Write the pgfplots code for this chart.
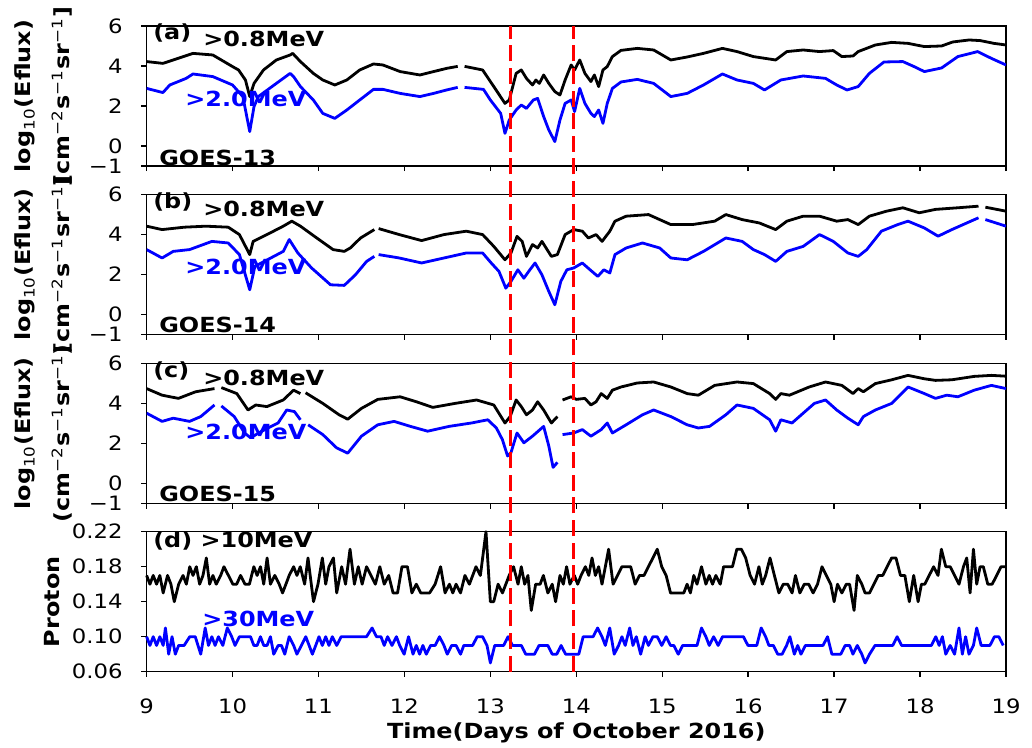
\documentclass[border=0pt]{standalone}
\usepackage{fontspec}
\setmainfont{DejaVu Sans}[FakeStretch=1.15]
\usepackage{pgfplots}
\pgfplotsset{compat=1.18}
\newcommand{\lbl}{\fontsize{10.4}{12}\selectfont\bfseries}
\newcommand{\sps}[1]{\textsuperscript{\mdseries #1}}
\tikzset{ann/.style={anchor=west, inner sep=0pt, font=\lbl}}
\pgfplotsset{
  panel/.style={
    at={(73.3pt,#1)}, anchor=south west,
    scale only axis, width=429.7pt, height=70pt,
    xmin=9, xmax=19, xtick={9,...,19},
    axis line style={line width=0.7pt},
    tick align=outside, tick pos=left,
    major tick length=2.6pt,
    every tick/.style={black, line width=0.7pt},
    ticklabel style={font=\fontsize{9.9}{11}\selectfont},
    yticklabel style={xshift=-5.9pt},
    xticklabel style={yshift=-7.5pt},
    unbounded coords=jump,
    every axis plot/.append style={line width=1.4pt, line join=round},
  },
  eflux/.style={ymin=-1, ymax=6, ytick={-1,0,2,4,6}, yticklabels={−1,0,2,4,6},
    xticklabels={}, clip mode=individual},
}
\begin{document}
\begin{tikzpicture}
\useasboundingbox (0,0) rectangle (516pt,374pt);

% ---------------- (a) GOES-13
\begin{axis}[panel=291pt, eflux]
\addplot[black] coordinates {(9.0,4.22)(9.19,4.13)(9.31,4.3)(9.54,4.63)(9.77,4.55)(10.0,3.97)(10.07,3.8)(10.15,3.3)(10.2,2.47)(10.25,3.13)(10.36,3.8)(10.51,4.3)(10.67,4.55)(10.70,4.63)(10.79,4.22)(10.94,3.63)(11.05,3.3)(11.19,3.05)(11.33,3.3)(11.48,3.8)(11.64,4.1)(11.75,4.05)(11.95,3.72)(12.18,3.55)(12.34,3.72)(12.49,3.88)(12.62,3.98)(12.66,nan)(12.70,3.98)(12.91,3.8)(13.04,2.97)(13.17,2.13)(13.22,2.3)(13.30,3.63)(13.36,3.8)(13.42,3.38)(13.49,3.05)(13.53,3.3)(13.57,3.13)(13.62,3.55)(13.68,3.13)(13.75,2.72)(13.81,2.55)(13.87,3.3)(13.94,4.05)(13.98,3.8)(14.04,4.3)(14.10,3.63)(14.17,3.22)(14.21,3.55)(14.26,2.97)(14.31,3.8)(14.36,3.97)(14.42,4.47)(14.52,4.78)(14.71,4.88)(14.90,4.8)(15.10,4.3)(15.29,4.45)(15.48,4.63)(15.70,4.88)(15.87,4.72)(16.06,4.47)(16.32,4.3)(16.45,4.72)(16.64,4.8)(16.83,4.72)(16.99,4.77)(17.09,4.47)(17.22,4.5)(17.28,4.72)(17.48,5.05)(17.67,5.18)(17.86,5.13)(18.05,4.97)(18.25,5.0)(18.38,5.2)(18.57,5.3)(18.70,5.27)(18.86,5.13)(19.0,5.05)};
\addplot[blue] coordinates {(9.0,2.88)(9.19,2.67)(9.27,3.05)(9.46,3.38)(9.54,3.6)(9.77,3.47)(10.0,3.05)(10.12,2.47)(10.2,0.72)(10.25,1.97)(10.30,2.47)(10.51,3.13)(10.67,3.63)(10.71,3.47)(10.79,2.97)(10.94,2.3)(11.05,1.63)(11.19,1.38)(11.33,1.8)(11.48,2.3)(11.64,2.83)(11.75,2.83)(11.95,2.63)(12.18,2.47)(12.34,2.63)(12.49,2.8)(12.62,2.93)(12.66,nan)(12.70,2.93)(12.92,2.83)(13.0,2.3)(13.12,1.63)(13.17,0.63)(13.22,1.3)(13.30,1.8)(13.36,2.05)(13.42,1.88)(13.50,2.3)(13.55,2.38)(13.62,1.47)(13.68,0.8)(13.75,0.22)(13.81,1.3)(13.87,2.13)(13.94,2.3)(13.98,1.72)(14.04,2.88)(14.10,2.13)(14.17,1.63)(14.21,1.47)(14.26,1.8)(14.31,1.13)(14.36,2.13)(14.42,2.88)(14.52,3.2)(14.71,3.33)(14.90,3.13)(15.10,2.47)(15.29,2.63)(15.48,3.05)(15.70,3.6)(15.87,3.3)(16.06,3.13)(16.19,2.8)(16.38,3.3)(16.64,3.5)(16.90,3.38)(17.03,3.05)(17.15,2.8)(17.28,2.97)(17.41,3.63)(17.58,4.2)(17.80,4.22)(17.93,3.97)(18.05,3.72)(18.25,3.9)(18.44,4.47)(18.67,4.72)(18.83,4.38)(19.0,4.05)};
\node[ann] at (axis cs:9.073,5.65) {(a)};
\node[ann] at (axis cs:9.655,5.33) {>0.8MeV};
\node[ann, text=blue] at (axis cs:9.446,2.35) {>2.0MeV};
\node[ann] at (axis cs:9.143,-0.58) {GOES-13};
\node[rotate=90, font=\lbl] at (axis description cs:-0.1415,0.5) {log\textsubscript{\mdseries 10}(Eflux)};
\node[rotate=90, font=\lbl] at (axis description cs:-0.0984,0.5) {[cm\sps{−2}s\sps{−1}sr\sps{−1}]};
\end{axis}

% ---------------- (b) GOES-14
\begin{axis}[panel=206.8pt, eflux]
\addplot[black] coordinates {(9.0,4.41)(9.18,4.24)(9.44,4.36)(9.69,4.41)(9.95,4.36)(10.08,3.99)(10.20,2.99)(10.24,3.65)(10.40,3.99)(10.59,4.41)(10.69,4.66)(10.79,4.41)(10.98,3.82)(11.17,3.24)(11.30,3.15)(11.37,3.32)(11.49,3.82)(11.65,4.24)(11.68,nan)(11.70,4.29)(11.94,3.99)(12.20,3.69)(12.46,3.99)(12.72,4.16)(12.91,3.99)(13.04,3.4)(13.17,2.73)(13.24,3.07)(13.31,3.9)(13.37,3.65)(13.42,2.9)(13.49,3.49)(13.55,3.32)(13.60,3.65)(13.71,2.9)(13.78,2.99)(13.87,3.99)(13.97,4.24)(14.07,4.16)(14.14,3.82)(14.23,3.99)(14.30,3.65)(14.39,4.16)(14.45,4.66)(14.58,4.91)(14.84,4.99)(15.10,4.49)(15.35,4.49)(15.61,4.66)(15.74,4.99)(15.93,4.74)(16.13,4.57)(16.32,4.24)(16.45,4.66)(16.64,4.91)(16.83,4.91)(17.03,4.66)(17.16,4.74)(17.28,4.49)(17.41,4.91)(17.61,5.16)(17.80,5.33)(17.99,5.08)(18.18,5.25)(18.44,5.33)(18.68,5.41)(18.73,nan)(18.76,5.36)(19.0,5.16)};
\addplot[blue] coordinates {(9.0,3.24)(9.18,2.82)(9.31,3.15)(9.50,3.24)(9.76,3.65)(9.95,3.57)(10.08,2.99)(10.20,1.23)(10.26,2.4)(10.37,2.65)(10.59,3.15)(10.66,3.74)(10.76,3.07)(10.92,2.32)(11.14,1.48)(11.30,1.45)(11.43,1.98)(11.56,2.65)(11.65,2.9)(11.68,nan)(11.70,2.99)(11.94,2.82)(12.20,2.57)(12.46,2.82)(12.72,3.07)(12.91,3.07)(13.01,2.57)(13.10,2.15)(13.18,1.31)(13.24,1.65)(13.32,2.23)(13.39,1.81)(13.46,2.23)(13.52,2.57)(13.60,1.98)(13.68,1.15)(13.75,0.48)(13.82,1.65)(13.89,2.23)(13.97,2.32)(14.07,2.57)(14.16,2.23)(14.25,1.9)(14.32,2.23)(14.39,2.07)(14.45,2.99)(14.58,3.32)(14.77,3.57)(14.97,3.32)(15.10,2.82)(15.29,2.73)(15.48,3.15)(15.74,3.82)(15.93,3.65)(16.06,3.24)(16.19,2.99)(16.32,2.65)(16.45,3.15)(16.64,3.4)(16.83,3.99)(16.99,3.65)(17.16,3.07)(17.28,2.9)(17.38,3.24)(17.55,4.16)(17.74,4.49)(17.86,4.66)(18.05,4.32)(18.21,3.91)(18.37,4.24)(18.68,4.83)(18.73,nan)(18.76,4.74)(19.0,4.41)};
\node[ann] at (axis cs:9.073,5.63) {(b)};
\node[ann] at (axis cs:9.655,5.28) {>0.8MeV};
\node[ann, text=blue] at (axis cs:9.446,2.39) {>2.0MeV};
\node[ann] at (axis cs:9.143,-0.55) {GOES-14};
\node[rotate=90, font=\lbl] at (axis description cs:-0.1415,0.5) {log\textsubscript{\mdseries 10}(Eflux)};
\node[rotate=90, font=\lbl] at (axis description cs:-0.0984,0.5) {[cm\sps{−2}s\sps{−1}sr\sps{−1}]};
\end{axis}

% ---------------- (c) GOES-15
\begin{axis}[panel=122.3pt, eflux]
\addplot[black] coordinates {(9.0,4.74)(9.18,4.41)(9.37,4.25)(9.57,4.58)(9.79,4.74)(9.83,nan)(9.87,4.79)(10.05,4.49)(10.18,3.67)(10.27,3.92)(10.40,3.84)(10.59,4.17)(10.71,4.66)(10.79,4.49)(10.82,nan)(10.85,4.53)(11.05,4.0)(11.24,3.43)(11.34,3.21)(11.50,3.75)(11.69,4.2)(11.95,4.33)(12.14,4.08)(12.33,3.8)(12.59,4.0)(12.84,4.17)(13.04,3.92)(13.17,3.02)(13.23,3.34)(13.30,4.17)(13.36,3.84)(13.42,3.43)(13.49,3.67)(13.55,4.08)(13.62,3.67)(13.71,3.02)(13.78,3.34)(13.81,nan)(13.84,4.17)(13.94,4.33)(14.0,4.2)(14.10,4.25)(14.17,3.92)(14.23,4.08)(14.29,4.49)(14.36,4.25)(14.42,4.66)(14.52,4.82)(14.71,5.02)(14.90,5.07)(15.10,4.82)(15.29,4.49)(15.42,4.41)(15.61,4.9)(15.87,5.07)(16.06,4.99)(16.25,4.49)(16.32,4.2)(16.38,4.49)(16.48,4.41)(16.71,4.82)(16.90,5.07)(17.09,4.9)(17.22,4.49)(17.28,4.74)(17.34,4.58)(17.48,4.99)(17.67,5.18)(17.86,5.4)(18.05,5.23)(18.18,5.15)(18.37,5.18)(18.63,5.35)(18.83,5.4)(19.0,5.36)};
\addplot[blue] coordinates {(9.0,3.51)(9.18,3.1)(9.31,3.26)(9.50,3.1)(9.63,3.34)(9.79,3.92)(9.83,nan)(9.87,3.87)(10.02,3.34)(10.14,2.52)(10.21,2.28)(10.34,2.61)(10.53,3.02)(10.63,3.67)(10.72,3.59)(10.79,3.18)(10.83,nan)(10.88,2.93)(11.05,2.44)(11.21,1.78)(11.34,1.51)(11.50,2.36)(11.69,2.93)(11.88,3.1)(12.07,2.85)(12.27,2.61)(12.52,2.85)(12.78,3.02)(12.97,3.18)(13.07,2.77)(13.14,2.19)(13.20,1.37)(13.24,1.54)(13.31,2.52)(13.39,2.03)(13.49,2.36)(13.62,2.85)(13.68,1.87)(13.73,0.8)(13.78,1.05)(13.81,nan)(13.84,2.44)(13.97,2.52)(14.07,2.69)(14.17,2.36)(14.29,2.69)(14.36,3.02)(14.42,2.52)(14.58,2.93)(14.77,3.43)(14.90,3.67)(15.10,3.34)(15.29,2.93)(15.42,2.77)(15.55,2.85)(15.74,3.43)(15.87,3.92)(16.06,3.75)(16.25,3.18)(16.32,2.61)(16.38,3.18)(16.51,3.02)(16.64,3.51)(16.77,4.0)(16.90,4.17)(17.03,3.67)(17.16,3.26)(17.28,2.93)(17.34,3.34)(17.48,3.67)(17.67,4.0)(17.86,4.82)(18.05,4.49)(18.18,4.25)(18.31,4.41)(18.44,4.33)(18.63,4.66)(18.83,4.9)(19.0,4.74)};
\node[ann] at (axis cs:9.073,5.6) {(c)};
\node[ann] at (axis cs:9.655,5.28) {>0.8MeV};
\node[ann, text=blue] at (axis cs:9.446,2.57) {>2.0MeV};
\node[ann] at (axis cs:9.143,-0.55) {GOES-15};
\node[rotate=90, font=\lbl] at (axis description cs:-0.1415,0.5) {log\textsubscript{\mdseries 10}(Eflux)};
\node[rotate=90, font=\lbl] at (axis description cs:-0.0984,0.5) {(cm\sps{−2}s\sps{−1}sr\sps{−1})};
\end{axis}

% ---------------- (d) Proton
\begin{axis}[panel=38.15pt, clip=false,
  ymin=0.06, ymax=0.22, ytick={0.06,0.10,0.14,0.18,0.22},
  yticklabels={0.06,0.10,0.14,0.18,0.22},
  xticklabels={9,10,11,12,13,14,15,16,17,18,19}]
\addplot[black] coordinates {(9.000,0.17)(9.039,0.16)(9.077,0.17)(9.116,0.16)(9.154,0.17)(9.193,0.15)(9.244,0.17)(9.283,0.16)(9.322,0.14)(9.373,0.16)(9.424,0.17)(9.463,0.16)(9.502,0.18)(9.540,0.17)(9.579,0.18)(9.617,0.16)(9.656,0.17)(9.695,0.19)(9.733,0.16)(9.772,0.17)(9.810,0.16)(9.862,0.17)(9.900,0.18)(9.952,0.17)(10.003,0.16)(10.048,0.16)(10.093,0.17)(10.145,0.16)(10.196,0.16)(10.248,0.18)(10.286,0.17)(10.325,0.18)(10.363,0.16)(10.402,0.19)(10.441,0.16)(10.492,0.17)(10.543,0.16)(10.582,0.15)(10.621,0.16)(10.659,0.17)(10.711,0.18)(10.749,0.17)(10.788,0.18)(10.839,0.16)(10.878,0.19)(10.942,0.14)(10.994,0.16)(11.045,0.19)(11.084,0.16)(11.122,0.18)(11.174,0.19)(11.212,0.15)(11.270,0.18)(11.315,0.16)(11.367,0.20)(11.418,0.16)(11.463,0.18)(11.508,0.16)(11.559,0.18)(11.611,0.17)(11.662,0.16)(11.714,0.18)(11.765,0.16)(11.817,0.17)(11.868,0.15)(11.920,0.15)(11.971,0.18)(12.035,0.18)(12.087,0.15)(12.138,0.16)(12.190,0.15)(12.241,0.15)(12.293,0.15)(12.357,0.16)(12.421,0.18)(12.473,0.15)(12.524,0.16)(12.563,0.15)(12.601,0.16)(12.653,0.15)(12.704,0.17)(12.756,0.16)(12.833,0.18)(12.884,0.17)(12.949,0.22)(13.000,0.14)(13.039,0.14)(13.090,0.16)(13.141,0.15)(13.180,0.16)(13.219,0.17)(13.270,0.18)(13.322,0.16)(13.360,0.18)(13.399,0.16)(13.437,0.17)(13.476,0.13)(13.527,0.16)(13.579,0.16)(13.617,0.17)(13.669,0.15)(13.720,0.16)(13.759,0.14)(13.810,0.17)(13.849,0.16)(13.887,0.18)(13.926,0.16)(13.977,0.17)(14.016,0.16)(14.055,0.17)(14.106,0.18)(14.145,0.17)(14.183,0.19)(14.222,0.17)(14.260,0.18)(14.299,0.16)(14.338,0.18)(14.376,0.20)(14.428,0.16)(14.479,0.17)(14.531,0.18)(14.582,0.18)(14.633,0.18)(14.685,0.16)(14.736,0.17)(14.788,0.17)(14.839,0.18)(14.891,0.19)(14.942,0.20)(14.994,0.18)(15.045,0.17)(15.096,0.15)(15.148,0.15)(15.199,0.15)(15.251,0.15)(15.289,0.16)(15.328,0.15)(15.367,0.17)(15.405,0.16)(15.457,0.18)(15.508,0.16)(15.547,0.17)(15.585,0.16)(15.624,0.17)(15.675,0.16)(15.714,0.18)(15.765,0.18)(15.817,0.18)(15.868,0.20)(15.920,0.20)(15.971,0.19)(16.023,0.17)(16.074,0.16)(16.125,0.18)(16.164,0.16)(16.203,0.17)(16.254,0.19)(16.305,0.17)(16.357,0.15)(16.408,0.16)(16.460,0.16)(16.511,0.15)(16.550,0.17)(16.601,0.15)(16.653,0.16)(16.704,0.16)(16.756,0.15)(16.807,0.16)(16.859,0.18)(16.910,0.17)(16.961,0.16)(17.000,0.14)(17.039,0.16)(17.090,0.15)(17.141,0.16)(17.180,0.16)(17.232,0.13)(17.270,0.17)(17.322,0.16)(17.360,0.15)(17.412,0.15)(17.463,0.16)(17.514,0.17)(17.566,0.17)(17.617,0.18)(17.669,0.19)(17.720,0.19)(17.772,0.17)(17.823,0.17)(17.875,0.14)(17.926,0.17)(17.977,0.14)(18.016,0.16)(18.055,0.16)(18.106,0.17)(18.158,0.18)(18.209,0.17)(18.248,0.20)(18.299,0.18)(18.350,0.18)(18.402,0.17)(18.453,0.16)(18.505,0.18)(18.543,0.19)(18.582,0.15)(18.621,0.20)(18.659,0.16)(18.698,0.18)(18.736,0.18)(18.788,0.16)(18.839,0.16)(18.891,0.17)(18.942,0.18)(18.994,0.18)};
\addplot[blue] coordinates {(9.000,0.10)(9.039,0.09)(9.077,0.10)(9.116,0.09)(9.154,0.10)(9.193,0.09)(9.219,0.11)(9.257,0.08)(9.296,0.10)(9.334,0.08)(9.373,0.09)(9.437,0.09)(9.502,0.10)(9.566,0.10)(9.630,0.08)(9.682,0.11)(9.720,0.09)(9.759,0.10)(9.797,0.09)(9.836,0.10)(9.887,0.09)(9.939,0.11)(9.990,0.10)(10.029,0.09)(10.080,0.10)(10.145,0.10)(10.209,0.10)(10.248,0.09)(10.286,0.09)(10.325,0.10)(10.363,0.09)(10.402,0.09)(10.441,0.10)(10.479,0.08)(10.531,0.09)(10.569,0.09)(10.608,0.08)(10.659,0.10)(10.711,0.09)(10.749,0.08)(10.801,0.09)(10.852,0.10)(10.891,0.09)(10.929,0.08)(10.968,0.09)(11.006,0.10)(11.045,0.09)(11.084,0.10)(11.122,0.09)(11.161,0.10)(11.212,0.09)(11.264,0.10)(11.315,0.10)(11.431,0.10)(11.559,0.10)(11.624,0.11)(11.675,0.10)(11.727,0.10)(11.765,0.09)(11.804,0.10)(11.855,0.09)(11.907,0.10)(11.945,0.09)(11.997,0.08)(12.048,0.10)(12.100,0.08)(12.138,0.09)(12.177,0.08)(12.215,0.09)(12.254,0.08)(12.305,0.09)(12.357,0.09)(12.408,0.10)(12.460,0.09)(12.498,0.08)(12.550,0.09)(12.601,0.09)(12.653,0.08)(12.691,0.09)(12.794,0.09)(12.846,0.10)(12.910,0.10)(12.961,0.09)(13.000,0.07)(13.051,0.09)(13.154,0.09)(13.206,0.10)(13.257,0.09)(13.360,0.09)(13.412,0.08)(13.514,0.08)(13.566,0.09)(13.669,0.09)(13.720,0.08)(13.772,0.08)(13.823,0.09)(13.875,0.08)(14.029,0.08)(14.080,0.10)(14.196,0.10)(14.248,0.11)(14.299,0.10)(14.338,0.09)(14.389,0.11)(14.441,0.08)(14.492,0.09)(14.531,0.10)(14.569,0.09)(14.621,0.11)(14.659,0.09)(14.698,0.10)(14.749,0.08)(14.801,0.10)(14.839,0.09)(14.891,0.10)(14.942,0.10)(14.994,0.09)(15.045,0.10)(15.096,0.09)(15.135,0.09)(15.186,0.08)(15.238,0.09)(15.354,0.09)(15.405,0.09)(15.457,0.11)(15.508,0.10)(15.547,0.09)(15.598,0.10)(15.650,0.09)(15.701,0.10)(15.945,0.10)(15.997,0.09)(16.100,0.09)(16.151,0.11)(16.203,0.10)(16.241,0.09)(16.293,0.09)(16.344,0.08)(16.395,0.08)(16.447,0.09)(16.485,0.10)(16.537,0.08)(16.576,0.09)(16.614,0.08)(16.666,0.09)(16.871,0.09)(16.923,0.10)(16.974,0.08)(17.077,0.08)(17.129,0.09)(17.180,0.09)(17.219,0.08)(17.270,0.09)(17.322,0.08)(17.360,0.07)(17.412,0.08)(17.476,0.09)(17.682,0.09)(17.733,0.10)(17.785,0.09)(18.132,0.09)(18.183,0.10)(18.222,0.09)(18.260,0.10)(18.299,0.08)(18.350,0.09)(18.402,0.08)(18.453,0.11)(18.492,0.08)(18.530,0.10)(18.569,0.08)(18.621,0.09)(18.659,0.11)(18.711,0.09)(18.813,0.09)(18.865,0.10)(18.916,0.10)(18.968,0.09)};
\addplot[red, line width=1.5pt, dash pattern=on 8pt off 3.3pt] coordinates {(13.23,0.06)(13.23,0.798)};
\addplot[red, line width=1.5pt, dash pattern=on 8pt off 3.3pt] coordinates {(13.97,0.06)(13.97,0.798)};
\node[ann] at (axis cs:9.073,0.209) {(d) >10MeV};
\node[ann, text=blue] at (axis cs:9.644,0.120) {>30MeV};
\node[rotate=90, font=\lbl] at (axis description cs:-0.1095,0.5) {Proton};
\node[font=\lbl] at (axis description cs:0.5,-0.438) {Time(Days of October 2016)};
\end{axis}
\end{tikzpicture}
\end{document}
